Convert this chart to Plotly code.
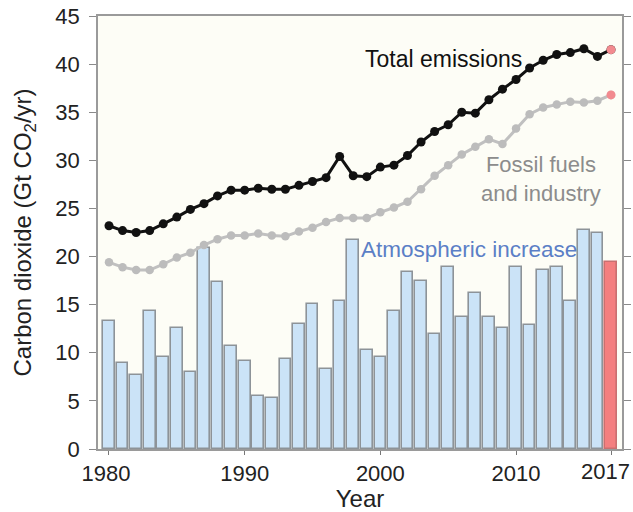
import plotly.graph_objects as go

# Global carbon budget components, 1980-2017 (Gt CO2 per year)
years = list(range(1980, 2018))

atmospheric_increase = [
    13.3, 8.9, 7.7, 14.3, 9.6, 12.6, 8.0, 20.9, 17.4, 10.7,
    9.1, 5.5, 5.3, 9.4, 13.0, 15.1, 8.3, 15.4, 21.7, 10.3,
    9.6, 14.3, 18.4, 17.5, 12.0, 18.9, 13.7, 16.2, 13.7, 12.6,
    18.9, 12.9, 18.6, 18.9, 15.4, 22.8, 22.4, 19.4,
]

total_emissions = [
    23.2, 22.7, 22.5, 22.7, 23.4, 24.1, 24.9, 25.5, 26.3, 26.9,
    26.9, 27.1, 27.0, 27.0, 27.4, 27.8, 28.2, 30.4, 28.4, 28.3,
    29.3, 29.5, 30.5, 31.9, 33.0, 33.7, 35.0, 34.9, 36.3, 37.4,
    38.4, 39.6, 40.4, 41.0, 41.2, 41.6, 40.8, 41.5,
]

fossil_industry = [
    19.4, 18.9, 18.6, 18.6, 19.2, 19.9, 20.4, 21.2, 21.8, 22.2,
    22.2, 22.4, 22.2, 22.1, 22.6, 23.0, 23.6, 24.0, 24.0, 24.0,
    24.6, 25.1, 25.7, 27.0, 28.4, 29.5, 30.6, 31.4, 32.2, 31.7,
    33.3, 34.8, 35.5, 35.8, 36.1, 36.0, 36.2, 36.8,
]

x_ticks = [1980, 1990, 2000, 2010, 2017]
x_tick_text = ["1980\u00a0", "1990", "2000", "2010", ""]  # last year labelled separately
last_year_label = "2017"
y_ticks = list(range(0, 46, 5))

BAR_FILL = "#cbe3f7"
BAR_EDGE = "#8d9398"
PROJ_FILL = "#f47f7f"
PROJ_EDGE = "#c97070"
PROJ_DOT = "#f28a8f"
FONT = "Liberation Sans, Arial, sans-serif"

bar_fill = [BAR_FILL] * (len(years) - 1) + [PROJ_FILL]
bar_edge = [BAR_EDGE] * (len(years) - 1) + [PROJ_EDGE]

fig = go.Figure()

fig.add_trace(go.Bar(
    x=years, y=atmospheric_increase, width=0.86,
    marker=dict(color=bar_fill, line=dict(color=bar_edge, width=1.6)),
    showlegend=False, hoverinfo="x+y",
))

fig.add_trace(go.Scatter(
    x=years, y=fossil_industry, mode="lines+markers",
    line=dict(color="#c0c0c0", width=3),
    marker=dict(color="#bcbcbc", size=8.5),
    showlegend=False,
))

fig.add_trace(go.Scatter(
    x=years, y=total_emissions, mode="lines+markers",
    line=dict(color="#111111", width=3),
    marker=dict(color="#111111", size=9),
    showlegend=False,
))

# 2017 projections highlighted
fig.add_trace(go.Scatter(
    x=[years[-1], years[-1]], y=[total_emissions[-1], fossil_industry[-1]],
    mode="markers", marker=dict(color=PROJ_DOT, size=9),
    showlegend=False,
))

fig.add_annotation(x=2004.65, y=40.5, text="Total emissions",
                   showarrow=False, xanchor="center", yanchor="middle",
                   font=dict(family=FONT, size=23, color="#111111"))
fig.add_annotation(x=2011.85, y=28.1, text="Fossil fuels<br>and industry",
                   align="center", showarrow=False,
                   xanchor="center", yanchor="middle",
                   font=dict(family=FONT, size=22, color="#8c8c8c"))
fig.add_annotation(x=2006.55, y=20.7, text="Atmospheric increase",
                   showarrow=False, xanchor="center", yanchor="middle",
                   font=dict(family=FONT, size=22.5, color="#5b7fc6"))

# final-year tick label, nudged inward so it stays inside the page
fig.add_annotation(x=x_ticks[-1], xref="x", y=-0.053, yref="paper",
                   text=last_year_label, showarrow=False, xshift=-6,
                   xanchor="center", yanchor="middle",
                   font=dict(family=FONT, size=22, color="#222222"))

fig.update_layout(
    width=633, height=512,
    margin=dict(l=98, r=11, t=16, b=63),
    paper_bgcolor="white",
    plot_bgcolor="#fdfdf6",
    font=dict(family=FONT, size=22, color="#222222"),
    bargap=0,
)

fig.update_xaxes(
    range=[1979.19, 2017.81], tickvals=x_ticks, ticktext=x_tick_text,
    ticks="outside", ticklen=4, tickcolor="#777777",
    showline=True, linecolor="#9a9a9a", linewidth=1.5, mirror=True,
    showgrid=False, zeroline=False, automargin=False,
    title=dict(text="Year" + "\u00a0" * 4, standoff=13, font=dict(size=24)),
    tickfont=dict(size=22),
)
fig.update_yaxes(
    range=[0, 45], tickvals=y_ticks,
    ticks="outside", ticklen=7, tickcolor="#8a8a8a",
    showline=True, linecolor="#9a9a9a", linewidth=1.5, mirror="ticks",
    showgrid=False, zeroline=False, automargin=False,
    ticklabelstandoff=5,
    title=dict(text="Carbon dioxide (Gt CO<sub>2</sub>/yr)", standoff=17, font=dict(size=24)),
    tickfont=dict(size=22),
)

fig.write_html("out.html")
